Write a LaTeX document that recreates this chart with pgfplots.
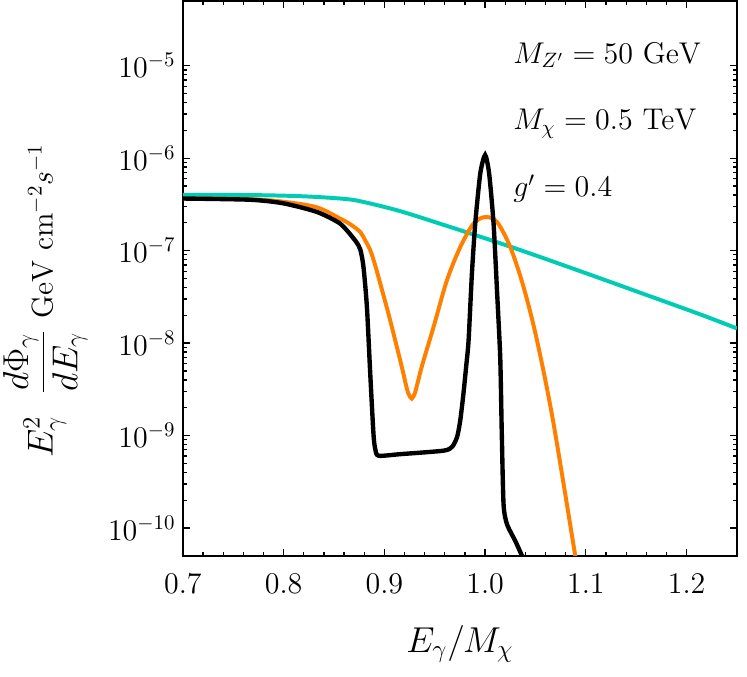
\documentclass[border=0pt]{standalone}
\usepackage{amsmath}
\usepackage{pgfplots}
\pgfplotsset{compat=1.18}

\definecolor{zcyan}{RGB}{0,204,180}
\definecolor{zorange}{RGB}{255,128,0}

\begin{document}
\begin{tikzpicture}[font=\Large]

\begin{axis}[
  name = main,
  scale only axis,
  width = 266.1pt,
  height = 266.4pt,
  xmin = 0.7, xmax = 1.25,
  ymode = log,
  ymin = 5e-11, ymax = 5e-5,
  xtick = {0.7,0.8,...,1.21},
  xticklabels = {0.7,0.8,0.9,1.0,1.1,1.2},
  minor x tick num = 4,
  ytick = {1e-10,1e-9,1e-8,1e-7,1e-6,1e-5},
  tick align = inside,
  major tick length = 3.4pt,
  minor tick length = 1.8pt,
  axis line style = {line width=1pt},
  every tick/.style = {black, line width=0.6pt},
  xticklabel shift = 5pt,
  xlabel = {\LARGE$E_\gamma/M_\chi$},
  every axis x label/.style = {at={(ticklabel cs:0.5)}, anchor=north, yshift=-8pt},
  ylabel = {\LARGE$E_\gamma^2\hspace{0.6em}\dfrac{d\Phi_\gamma}{dE_\gamma}$\ \Large$\mathrm{GeV}~\mathrm{cm}^{-2}s^{-1}$},
  every axis y label/.style = {at={(ticklabel cs:0.46)}, rotate=90, anchor=south, yshift=3pt},
  clip = true,
]

% cyan curve
\addplot[zcyan, line width=1.9pt, smooth] coordinates {
  (0.7000, 4.02e-7)
  (0.7668, 3.99e-7)
  (0.8165, 3.88e-7)
  (0.8562, 3.66e-7)
  (0.8761, 3.42e-7)
  (0.9158, 2.67e-7)
  (0.9654, 1.80e-7)
  (1.0151, 1.20e-7)
  (1.0548, 8.52e-8)
  (1.1144, 5.01e-8)
  (1.1640, 3.20e-8)
  (1.2137, 2.04e-8)
  (1.2500, 1.44e-8)
};

% orange curve
\addplot[zorange, line width=1.9pt, smooth] coordinates {
  (0.7000, 3.66e-7)
  (0.7668, 3.60e-7)
  (0.7996, 3.38e-7)
  (0.8330, 2.94e-7)
  (0.8561, 2.22e-7)
  (0.8661, 1.93e-7)
  (0.8761, 1.59e-7)
  (0.8810, 1.29e-7)
  (0.8860, 1.01e-7)
  (0.8909, 6.93e-8)
  (0.8959, 4.42e-8)
  (0.9058, 1.76e-8)
  (0.9174, 5.48e-9)
  (0.9209, 3.74e-9)
  (0.9239, 2.84e-9)
  (0.9272, 2.51e-9)
  (0.9301, 2.84e-9)
  (0.9331, 3.74e-9)
  (0.9376, 5.80e-9)
  (0.9488, 1.49e-8)
  (0.9621, 4.77e-8)
  (0.9753, 1.09e-7)
  (0.9885, 1.96e-7)
  (1.0001, 2.31e-7)
  (1.0118, 2.04e-7)
  (1.0250, 1.09e-7)
  (1.0382, 4.03e-8)
  (1.0515, 1.07e-8)
  (1.0674, 1.45e-9)
  (1.0895, 5.00e-11)
  (1.0945, 2.37e-11)
};

% black curve
\addplot[black, line width=2.1pt, smooth, tension=0.4] coordinates {
  (0.7000, 3.66e-7)
  (0.7668, 3.55e-7)
  (0.7996, 3.25e-7)
  (0.8330, 2.62e-7)
  (0.8561, 1.96e-7)
  (0.8710, 1.29e-7)
  (0.8761, 1.03e-7)
  (0.8793, 6.64e-8)
  (0.8827, 2.45e-8)
  (0.8860, 4.65e-9)
  (0.8892, 1.04e-9)
  (0.8909, 7.21e-10)
  (0.8942, 6.05e-10)
  (0.9157, 6.29e-10)
  (0.9587, 6.86e-10)
  (0.9674, 7.58e-10)
  (0.9723, 9.73e-10)
  (0.9753, 1.45e-9)
  (0.9783, 2.71e-9)
  (0.9813, 5.72e-9)
  (0.9836, 1.07e-8)
  (0.9869, 5.63e-8)
  (0.9902, 1.96e-7)
  (0.9952, 6.83e-7)
  (1.0000, 1.08e-6)
  (1.0040, 6.83e-7)
  (1.0084, 1.96e-7)
  (1.0118, 3.71e-8)
  (1.0150, 7.03e-9)
  (1.0165, 1.13e-9)
  (1.0183, 1.82e-10)
  (1.0217, 1.10e-10)
  (1.0299, 7.26e-11)
  (1.0366, 5.00e-11)
  (1.0448, 3.03e-11)
};

\node[anchor=base west] at (axis description cs:0.583,0.888) {$M_{Z'} = 50~\mathrm{GeV}$};
\node[anchor=base west] at (axis description cs:0.583,0.768) {$M_\chi = 0.5~\mathrm{TeV}$};
\node[anchor=base west] at (axis description cs:0.583,0.647) {$g' = 0.4$};

\coordinate (ll) at (rel axis cs:0,0);
\coordinate (ur) at (rel axis cs:1,1);
\end{axis}

\pgfresetboundingbox
\path ([xshift=-87.8pt,yshift=-58.1pt]ll) rectangle ([xshift=4.8pt,yshift=0.5pt]ur);

\end{tikzpicture}
\end{document}
